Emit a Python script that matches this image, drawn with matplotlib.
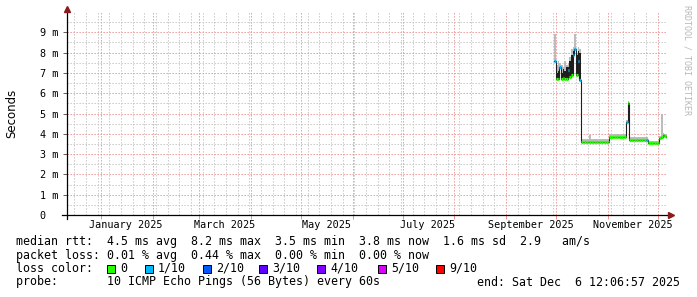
from datetime import datetime
import matplotlib
matplotlib.use('Agg')
from matplotlib import pyplot as plt
from matplotlib import dates as mdates
from matplotlib.patches import Rectangle
from matplotlib.ticker import FixedLocator, FuncFormatter
import pandas as pd

# daily values (ms), Sep 30 .. Dec 6 2025
median = [7.6, 6.7, 6.7, 7.3, 6.7, 6.75, 6.7, 6.7, 7.15, 6.8, 6.9, 7.9, 8.2, 6.9, 7.6, 6.65,
          3.6, 3.6, 3.6, 3.6, 3.6, 3.6, 3.6, 3.6, 3.6, 3.6, 3.6, 3.6, 3.6, 3.6, 3.6, 3.6, 3.6,
          3.85, 3.85, 3.85, 3.85, 3.85, 3.85, 3.85, 3.85, 3.85, 3.85, 4.6, 5.5,
          3.7, 3.7, 3.7, 3.7, 3.7, 3.7, 3.7, 3.7, 3.7, 3.7, 3.7,
          3.55, 3.55, 3.55, 3.55, 3.55, 3.55, 3.55,
          3.8, 3.85, 3.95, 3.9, 3.85]
# dense (dark) part of the smoke during the first two weeks of October
dark_hi_oct = [7.6, 7.0, 7.1, 7.3, 7.0, 7.2, 7.1, 7.3, 7.3, 7.6, 7.9, 8.1, 8.2, 7.9, 8.1, 8.0]
smoke_hi = [8.9, 7.4, 7.6, 7.5, 7.4, 7.3, 7.6, 7.4, 7.5, 7.8, 8.2, 8.3, 8.9, 8.0, 8.3, 8.2,
            3.75, 3.75, 3.75, 3.75, 3.75, 3.95, 3.75, 3.75, 3.75, 3.75, 3.75, 3.75, 3.75, 3.75, 3.75, 3.75, 3.75,
            4.0, 4.0, 4.0, 4.0, 4.0, 4.0, 4.0, 4.0, 4.0, 4.0, 4.7, 5.6,
            3.85, 3.85, 3.85, 3.85, 3.85, 3.85, 3.85, 3.85, 3.85, 3.85, 3.85,
            3.65, 3.65, 3.65, 3.65, 3.65, 3.65, 3.65,
            3.9, 5.0, 4.05, 4.0, 4.0]
loss = [1, 0, 0, 1, 0, 0, 0, 0, 1, 0, 0, 1, 1, 0, 1, 1,
        0, 0, 0, 0, 0, 0, 0, 0, 0, 0, 0, 0, 0, 0, 0, 0, 0,
        0, 0, 0, 0, 0, 0, 0, 0, 0, 0, 1, 0,
        0, 0, 0, 0, 0, 0, 0, 0, 0, 0, 1,
        0, 0, 0, 0, 0, 0, 0,
        0, 0, 0, 0, 0]

loss_colors = {0: '#26ff00', 1: '#00b8ff', 2: '#0059ff', 3: '#5e00ff',
               4: '#7e00ff', 5: '#dd00ff', 9: '#ff0000'}
legend_labels = ['0', '1/10', '2/10', '3/10', '4/10', '5/10', '9/10']
legend_keys = [0, 1, 2, 3, 4, 5, 9]
legend_x = [107, 145, 203, 259, 317, 378, 436]

month_labels = ['January 2025', 'March 2025', 'May 2025', 'July 2025',
                'September 2025', 'November 2025']
month_label_dates = ['2025-01-16', '2025-03-16', '2025-05-16', '2025-07-16',
                     '2025-09-16', '2025-11-16']

stats_lines = [
    'median rtt:  4.5 ms avg  8.2 ms max  3.5 ms min  3.8 ms now  1.6 ms sd  2.9   am/s',
    'packet loss: 0.01 % avg  0.44 % max  0.00 % min  0.00 % now',
]
probe_text = 'probe:       10 ICMP Echo Pings (56 Bytes) every 60s'
end_text = 'end: Sat Dec  6 12:06:57 2025'

W, H = 697, 297
MONO = 'DejaVu Sans Mono'


def fx(x):
    return x / W


def fy(y):
    return 1 - y / H


days = pd.date_range('2025-09-30', periods=len(median), freq='D')
edges = list(days) + [pd.Timestamp('2025-12-06 12:06')]
dark_hi = dark_hi_oct + median[len(dark_hi_oct):]

fig = plt.figure(figsize=(W / 100, H / 100), dpi=100)
ax = fig.add_axes([fx(67), fy(215), 600 / W, 203 / H])
ax.set_xlim(datetime(2024, 12, 11, 12, 6), datetime(2025, 12, 6, 12, 6))
ax.set_ylim(0, 10)
for s in ax.spines.values():
    s.set_visible(False)

# grid (rrdtool style dotted lines)
dot = (0, (1.3, 1.7))
ax.xaxis.set_major_locator(mdates.MonthLocator())
ax.xaxis.set_minor_locator(mdates.WeekdayLocator(byweekday=mdates.MO))
ax.xaxis.set_major_formatter(FuncFormatter(lambda v, p: ''))
ax.yaxis.set_major_locator(FixedLocator(range(0, 10)))
ax.yaxis.set_minor_locator(FixedLocator([i + 0.5 for i in range(10)]))
ax.yaxis.set_major_formatter(FuncFormatter(lambda v, p: '0  ' if v == 0 else '%d m' % v))
ax.grid(True, which='minor', color='#c4c4c4', linestyle=dot, linewidth=0.72)
ax.grid(True, which='major', color='#ee9090', linestyle=dot, linewidth=0.72)
ax.tick_params(which='both', length=0)
ax.tick_params(axis='y', which='major', length=3, width=0.7, color='#606060', pad=3,
               labelsize=7.3)
ax.tick_params(axis='x', which='major', length=3, width=0.7, color='#ee9090')
for lab in ax.get_yticklabels():
    lab.set_family(MONO)
ax.set_axisbelow(True)

for d, lab in zip(month_label_dates, month_labels):
    ax.text(pd.Timestamp(d), -0.049, lab, transform=ax.get_xaxis_transform(),
            ha='center', va='center', family=MONO, size=7.3)

# smoke, median line and loss coloured segments
ax.fill_between(edges, median + [median[-1]], smoke_hi + [smoke_hi[-1]], step='post',
                color='#bcbcbc', linewidth=0, zorder=2)
ax.fill_between(edges, median + [median[-1]], dark_hi + [dark_hi[-1]], step='post',
                color='#1e1e1e', linewidth=0, zorder=2.5)
ax.step(edges, median + [median[-1]], where='post', color='#202020', linewidth=0.8, zorder=3)
ax.hlines(median, edges[:-1], edges[1:], colors=[loss_colors[l] for l in loss],
          linewidth=2.3, zorder=4)

# axes lines with arrows
fig.add_artist(plt.Line2D([fx(62), fx(670)], [fy(215), fy(215)], color='black', lw=0.9))
fig.add_artist(plt.Line2D([fx(67), fx(67)], [fy(219), fy(11)], color='black', lw=0.9))
fig.add_artist(plt.Line2D([fx(671)], [fy(215)], marker='>', markersize=4.5, color='#8b1a1a'))
fig.add_artist(plt.Line2D([fx(67)], [fy(9)], marker='^', markersize=4.5, color='#8b1a1a'))

fig.text(fx(12), fy(113), 'Seconds', rotation=90, ha='center', va='center', size=8.5)
fig.text(fx(687), fy(5), 'RRDTOOL / TOBI OETIKER', rotation=270, ha='center', va='top',
         family=MONO, size=6, color='#b8b8b8')

# legend block
fig.text(fx(16), fy(241), stats_lines[0], family=MONO, size=8.4, va='center')
fig.text(fx(16), fy(255), stats_lines[1], family=MONO, size=8.4, va='center')
fig.text(fx(16), fy(268), 'loss color:', family=MONO, size=8.4, va='center')
for x, k, lab in zip(legend_x, legend_keys, legend_labels):
    fig.add_artist(Rectangle((fx(x), fy(273)), 8 / W, 8 / H, facecolor=loss_colors[k],
                             edgecolor='black', linewidth=0.7))
    fig.text(fx(x + 13), fy(268), lab, family=MONO, size=8.4, va='center')
fig.text(fx(16), fy(282), probe_text, family=MONO, size=8.4, va='center')
fig.text(fx(680), fy(282), end_text, family=MONO, size=8.4, va='center', ha='right')

fig.savefig('out.png', dpi=100)
